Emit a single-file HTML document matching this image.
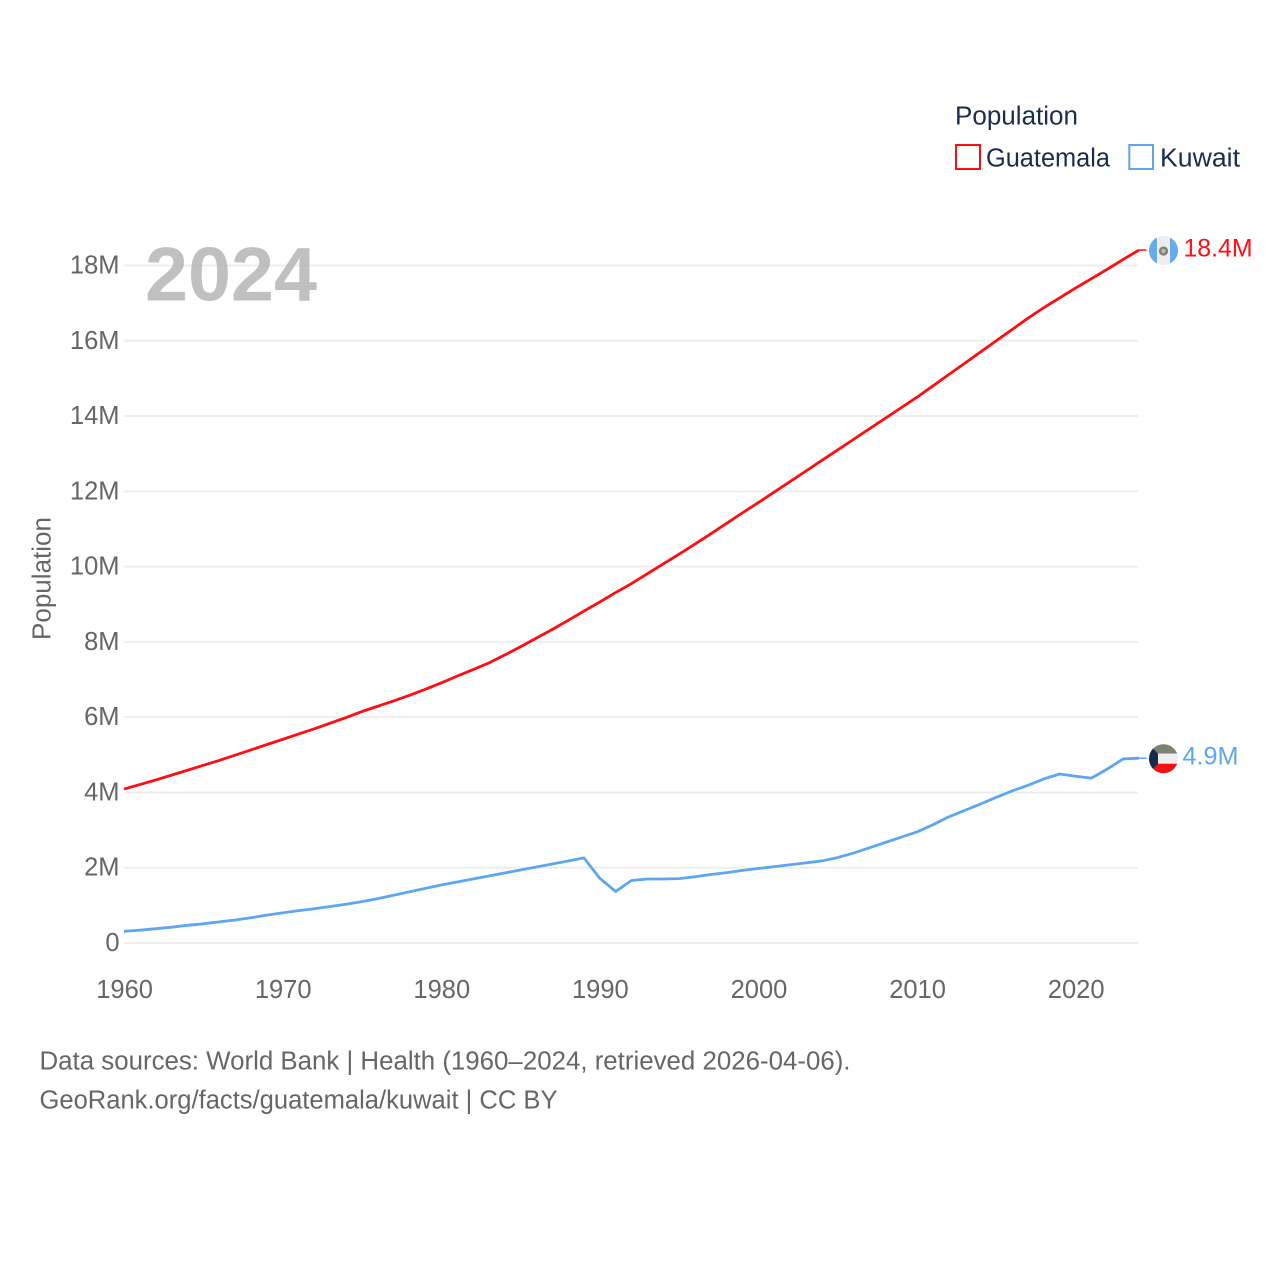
<!DOCTYPE html>
<html lang="en">
<head>
<meta charset="utf-8">
<title>Guatemala and Kuwait population</title>
<style>
html,body{margin:0;padding:0;background:#fff}
svg{display:block}
text{font-family:"Liberation Sans",Arial,sans-serif}
.legend{fill:#1b2c4c;font-size:25.5px}
.foot{fill:#666;font-size:25.5px}
.tick{fill:#666;font-size:25.5px}
</style>
</head>
<body>
<svg id="chart" xmlns="http://www.w3.org/2000/svg" width="1280" height="1280" viewBox="0 0 1280 1280">
  <rect width="1280" height="1280" fill="#fff"/>
  <defs>
    <clipPath id="flag-clip"><circle cx="0" cy="0" r="14.5"/></clipPath>
  </defs>
  <g id="grid"></g>
  <g id="yticks"></g>
  <g id="xticks"></g>
  <text x="145" y="300.500" font-size="76" font-weight="700" fill="#b0b0b0" fill-opacity="0.8" textLength="172" lengthAdjust="spacingAndGlyphs">2024</text>
  <text class="tick" transform="translate(50.500,640) rotate(-90)" textLength="123" lengthAdjust="spacingAndGlyphs">Population</text>
  <g id="series"></g>
  <g id="ends"></g>

  <g>
    <text class="legend" x="955" y="124.500" textLength="123" lengthAdjust="spacingAndGlyphs">Population</text>
    <g>
      <rect x="956" y="145" width="24" height="24" fill="none" stroke="#ff0d12" stroke-width="2"/>
      <text class="legend" x="986" y="166.500" textLength="124" lengthAdjust="spacingAndGlyphs">Guatemala</text>
    </g>
    <g>
      <rect x="1129.300" y="145" width="23.700" height="24" fill="none" stroke="#5ea6ee" stroke-width="2"/>
      <text class="legend" x="1160" y="166.500" textLength="80" lengthAdjust="spacingAndGlyphs">Kuwait</text>
    </g>
  </g>

  <text class="foot" x="39.500" y="1069.500" textLength="811" lengthAdjust="spacingAndGlyphs">Data sources: World Bank | Health (1960–2024, retrieved 2026-04-06).</text>
  <text class="foot" x="39.500" y="1108.500" textLength="518" lengthAdjust="spacingAndGlyphs">GeoRank.org/facts/guatemala/kuwait | CC BY</text>
</svg>
<script>
const startYear = 1960;
const yTickValues = [0, 2, 4, 6, 8, 10, 12, 14, 16, 18];
const yTickLabels = ['0', '2M', '4M', '6M', '8M', '10M', '12M', '14M', '16M', '18M'];
const xTickYears = [1960, 1970, 1980, 1990, 2000, 2010, 2020];
const guatemala = [4.09, 4.21, 4.33, 4.46, 4.59, 4.72, 4.85, 4.99, 5.13, 5.27,
  5.41, 5.55, 5.69, 5.84, 5.99, 6.15, 6.29, 6.43, 6.58, 6.74,
  6.91, 7.09, 7.26, 7.44, 7.65, 7.87, 8.10, 8.33, 8.57, 8.82,
  9.06, 9.31, 9.55, 9.81, 10.07, 10.33, 10.60, 10.87, 11.15, 11.43,
  11.70, 11.98, 12.26, 12.54, 12.82, 13.10, 13.38, 13.66, 13.94, 14.22,
  14.50, 14.80, 15.10, 15.40, 15.70, 16.00, 16.30, 16.60, 16.88, 17.14,
  17.40, 17.65, 17.90, 18.16, 18.41];
const kuwait = [0.31, 0.34, 0.38, 0.42, 0.47, 0.51, 0.56, 0.61, 0.67, 0.74,
  0.80, 0.86, 0.91, 0.97, 1.03, 1.10, 1.18, 1.27, 1.36, 1.45,
  1.54, 1.62, 1.70, 1.78, 1.86, 1.94, 2.02, 2.10, 2.18, 2.26,
  1.72, 1.37, 1.66, 1.70, 1.70, 1.71, 1.76, 1.82, 1.87, 1.93,
  1.98, 2.03, 2.08, 2.13, 2.18, 2.27, 2.39, 2.53, 2.67, 2.81,
  2.95, 3.14, 3.35, 3.52, 3.69, 3.87, 4.04, 4.19, 4.36, 4.49,
  4.43, 4.38, 4.62, 4.89, 4.91];
const guatemalaLabel = '18.4M';
const kuwaitLabel = '4.9M';

const NS = 'http://www.w3.org/2000/svg';
const xScale = function (year) { return 124 + (year - 1960) * (1139 - 124) / 64; };
const yScale = function (v) { return 943 - v * 37.64; };

function make(tag, parent, attrs) {
  const el = document.createElementNS(NS, tag);
  Object.keys(attrs).forEach(function (k) { el.setAttribute(k, attrs[k]); });
  parent.appendChild(el);
  return el;
}

const gridG = document.getElementById('grid');
const yTickG = document.getElementById('yticks');
const xTickG = document.getElementById('xticks');
const seriesG = document.getElementById('series');
const endsG = document.getElementById('ends');

yTickValues.forEach(function (v, i) {
  const line = make('line', gridG, { x1: 124, x2: 1138, y1: yScale(v), y2: yScale(v), stroke: '#eeeeee', 'stroke-width': 2 });
  
  
  const label = make('text', yTickG, { x: 119.5, y: yScale(v) + 8, 'text-anchor': 'end', class: 'tick' });
  label.textContent = yTickLabels[i];
  
  
});

xTickYears.forEach(function (year) {
  const label = make('text', xTickG, { x: xScale(year) + 0.6, y: 998, 'text-anchor': 'middle', class: 'tick' });
  label.textContent = String(year);
  
  
});

function pathFor(values) {
  return values.map(function (v, i) {
    return (i ? 'L' : 'M') + xScale(startYear + i).toFixed(2) + ' ' + yScale(v).toFixed(2);
  }).join(' ');
}

const redLine = make('path', seriesG, { d: pathFor(guatemala), fill: 'none', stroke: '#ff0d12', 'stroke-width': 2.8, 'stroke-linejoin': 'round' });


const blueLine = make('path', seriesG, { d: pathFor(kuwait), fill: 'none', stroke: '#5ea6ee', 'stroke-width': 2.8, 'stroke-linejoin': 'round' });



const lastYear = startYear + guatemala.length - 1;
const flagX = xScale(lastYear) + 24.5;

function leader(value, color) {
  const l = make('line', endsG, { x1: xScale(lastYear), x2: flagX - 17, y1: yScale(value), y2: yScale(value), stroke: color, 'stroke-width': 1.5 });
  return l;
}

function flagGroup(value) {
  return make('g', endsG, { transform: 'translate(' + flagX + ',' + (yScale(value) + 0.5) + ')', 'clip-path': 'url(#flag-clip)' });
}

const leaderG = leader(guatemala[guatemala.length - 1], '#ff0d12');


const leaderK = leader(kuwait[kuwait.length - 1], '#5ea6ee');



const flagG = flagGroup(guatemala[guatemala.length - 1]);


make('rect', flagG, { x: -15, y: -15, width: 30, height: 30, fill: '#eeeeee' });
make('rect', flagG, { x: -15, y: -15, width: 8.5, height: 30, fill: '#67aaee' });
make('rect', flagG, { x: 6.5, y: -15, width: 8.5, height: 30, fill: '#67aaee' });
make('circle', flagG, { cx: 0, cy: 0.5, r: 3.4, fill: '#b9b9b4', stroke: '#7f7f78', 'stroke-width': 2.4 });

const flagK = flagGroup(kuwait[kuwait.length - 1]);


make('rect', flagK, { x: -15, y: -15, width: 30, height: 10, fill: '#7d8274' });
make('rect', flagK, { x: -15, y: -5, width: 30, height: 10, fill: '#eeeeee' });
make('rect', flagK, { x: -15, y: 5, width: 30, height: 10, fill: '#f90f14' });
make('polygon', flagK, { points: '-15,-15 -5.500,-5 -5.500,5 -15,15', fill: '#152b4e' });

const labelG = make('text', endsG, { x: flagX + 20, y: yScale(guatemala[guatemala.length - 1]) + 6.5, fill: '#ff0d12', 'font-size': '25px', textLength: 69, lengthAdjust: 'spacingAndGlyphs' });
labelG.textContent = guatemalaLabel;


const labelK = make('text', endsG, { x: flagX + 19, y: yScale(kuwait[kuwait.length - 1]) + 6.5, fill: '#5ea6ee', 'font-size': '25px', textLength: 56, lengthAdjust: 'spacingAndGlyphs' });
labelK.textContent = kuwaitLabel;


</script>
</body>
</html>
